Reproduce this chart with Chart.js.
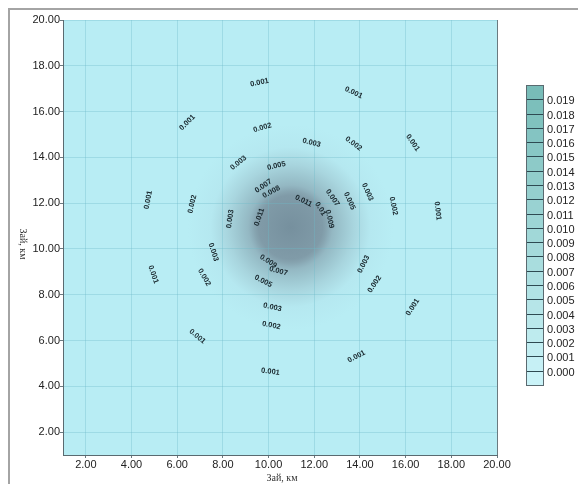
<!DOCTYPE html>
<html>
<head>
<meta charset="utf-8">
<script src="https://cdn.jsdelivr.net/npm/chart.js@4.4.0/dist/chart.umd.min.js"></script>
<style>
    html, body { margin: 0; padding: 0; background: #fff; }
</style>
</head>
<body>
<canvas id="fieldChart" width="578" height="484"></canvas>
<script>
// подписи изолиний: координаты, км
const labelX = [9.60, 6.44, 9.73, 8.68, 10.34, 9.77, 10.12, 4.73, 6.66, 8.32, 9.60, 13.72, 11.88, 13.72, 16.31, 14.33, 13.54, 12.80, 12.27, 12.67, 11.53, 15.47, 17.40, 7.58, 7.18, 4.95, 9.99, 10.43, 9.77, 10.17, 10.12, 6.88, 10.08, 14.16, 14.64, 16.31, 13.85];
const labelY = [17.27, 15.52, 15.30, 13.76, 13.63, 12.75, 12.49, 12.14, 11.96, 11.31, 11.39, 16.83, 14.64, 14.60, 14.64, 12.49, 12.10, 12.23, 11.75, 11.31, 12.10, 11.88, 11.66, 9.86, 8.76, 8.89, 9.46, 9.03, 8.59, 7.45, 6.66, 6.18, 4.64, 9.33, 8.46, 7.45, 5.30];
const labelText = ['0.001', '0.001', '0.002', '0.003', '0.005', '0.007', '0.008', '0.001', '0.002', '0.003', '0.011', '0.001', '0.003', '0.002', '0.001', '0.003', '0.005', '0.007', '0.01', '0.009', '0.011', '0.002', '0.001', '0.003', '0.002', '0.001', '0.009', '0.007', '0.005', '0.003', '0.002', '0.001', '0.001', '0.003', '0.002', '0.001', '0.001'];

// центр пятна и радиусы изолиний, км
const fieldCenter = [10.96, 10.95];
const isoLevels = [0.001, 0.002, 0.003, 0.005, 0.007, 0.008, 0.009, 0.010, 0.011, 0.014];
const isoRadius = [6.4, 4.5, 3.5, 2.75, 2.15, 1.85, 1.7, 1.58, 1.4, 0];

// деления осей
const axisTicks = [2, 4, 6, 8, 10, 12, 14, 16, 18, 20];

// шкала легенды
const barLevels = [0.000, 0.001, 0.002, 0.003, 0.004, 0.005, 0.006, 0.007, 0.008, 0.009, 0.010, 0.011, 0.012, 0.013, 0.014, 0.015, 0.016, 0.017, 0.018, 0.019];

const bgColor = [184, 237, 244];
const darkColor = [128, 155, 168];

function mix(a, b, t) {
    return 'rgb(' + a.map((v, i) => Math.round(v + (b[i] - v) * t)).join(',') + ')';
}

// цвет заливки поля по значению
function fieldColor(v) {
    if (v <= 0.011) {
        const t = Math.max(0, Math.min(1, (v - 0.0025) / 0.0085));
        return mix(bgColor, darkColor, t);
    }
    return mix(darkColor, [118, 144, 158], Math.min(1, (v - 0.011) / 0.003));
}

const fieldPlugin = {
    id: 'field',
    beforeDraw(chart) {
        const { ctx, chartArea: a, scales: { x, y } } = chart;
        ctx.save();
        ctx.beginPath();
        ctx.rect(a.left, a.top, a.right - a.left, a.bottom - a.top);
        ctx.clip();
        ctx.fillStyle = mix(bgColor, bgColor, 0);
        ctx.fillRect(a.left, a.top, a.right - a.left, a.bottom - a.top);

        const cx = x.getPixelForValue(fieldCenter[0]);
        const cy = y.getPixelForValue(fieldCenter[1]);
        const rMax = isoRadius[0];
        const rPx = x.getPixelForValue(fieldCenter[0] + rMax) - cx;
        const grad = ctx.createRadialGradient(cx, cy, 0, cx, cy, rPx);
        for (let i = isoLevels.length - 1; i >= 0; i--) {
            grad.addColorStop(isoRadius[i] / rMax, fieldColor(isoLevels[i]));
        }
        ctx.fillStyle = grad;
        ctx.beginPath();
        ctx.arc(cx, cy, rPx, 0, Math.PI * 2);
        ctx.fill();
        ctx.restore();
    },
    afterDatasetsDraw(chart) {
        const { ctx, scales: { x, y } } = chart;
        const cx = x.getPixelForValue(fieldCenter[0]);
        const cy = y.getPixelForValue(fieldCenter[1]);
        const meta = chart.getDatasetMeta(0);
        ctx.save();
        ctx.font = 'bold 7.5px "Liberation Sans", Arial, sans-serif';
        ctx.fillStyle = '#18262c';
        ctx.textAlign = 'center';
        ctx.textBaseline = 'middle';
        meta.data.forEach((pt, i) => {
            // подпись идёт вдоль изолинии
            let ang = Math.atan2(pt.y - cy, pt.x - cx) + Math.PI / 2;
            while (ang > Math.PI / 2) ang -= Math.PI;
            while (ang <= -Math.PI / 2) ang += Math.PI;
            ctx.save();
            ctx.translate(pt.x, pt.y);
            ctx.rotate(ang);
            ctx.fillText(labelText[i], 0, 0);
            ctx.restore();
        });
        ctx.restore();
    },
    afterDraw(chart) {
        const { ctx, chartArea: a } = chart;
        ctx.save();

        // рамка листа
        ctx.strokeStyle = '#a4a4a4';
        ctx.lineWidth = 2;
        ctx.beginPath();
        ctx.moveTo(9, 484);
        ctx.lineTo(9, 9);
        ctx.lineTo(578, 9);
        ctx.stroke();

        // правая граница поля
        ctx.strokeStyle = '#6a7a80';
        ctx.lineWidth = 1;
        ctx.beginPath();
        ctx.moveTo(a.right + 0.5, a.top);
        ctx.lineTo(a.right + 0.5, a.bottom);
        ctx.stroke();

        // подписи осей
        ctx.fillStyle = '#333';
        ctx.font = '10px "Liberation Serif", "Times New Roman", serif';
        ctx.textAlign = 'center';
        ctx.textBaseline = 'middle';
        ctx.fillText('Зай, км', 282, 478);
        ctx.save();
        ctx.translate(23, 244);
        ctx.rotate(Math.PI / 2);
        ctx.fillText('Зай, км', 0, 0);
        ctx.restore();

        // легенда
        const bx = 526, by = 85, bw = 17, bh = 300;
        const n = barLevels.length + 1;
        const step = bh / n;
        for (let j = 0; j < n; j++) {
            const t = (n - 1 - j) / (n - 1);
            ctx.fillStyle = mix([202, 243, 248], [120, 188, 184], t);
            ctx.fillRect(bx, by + j * step, bw, step + 0.5);
        }
        ctx.strokeStyle = '#2e4a52';
        ctx.lineWidth = 1;
        for (let k = 1; k < n; k++) {
            const yy = Math.round(by + k * step) + 0.5;
            ctx.beginPath();
            ctx.moveTo(bx, yy);
            ctx.lineTo(bx + bw, yy);
            ctx.stroke();
        }
        ctx.strokeStyle = '#5a6a70';
        ctx.strokeRect(bx + 0.5, by + 0.5, bw, bh);

        ctx.fillStyle = '#222';
        ctx.font = '11px "Liberation Sans", Arial, sans-serif';
        ctx.textAlign = 'left';
        for (let k = 1; k < n; k++) {
            const v = barLevels[n - 1 - k];
            ctx.fillText(v.toFixed(3), bx + bw + 4, by + k * step + 2);
        }
        ctx.restore();
    }
};

function axisOptions(fitFn) {
    return {
        type: 'linear',
        min: 1,
        max: 20,
        afterBuildTicks: function(axis) {
            axis.ticks = axisTicks.map(v => ({ value: v }));
        },
        afterFit: fitFn,
        ticks: {
            padding: 0,
            color: '#222',
            font: { family: '"Liberation Sans", Arial, sans-serif', size: 11 },
            callback: function(value) {
                return Number(value).toFixed(2);
            }
        },
        grid: {
            color: 'rgba(110, 185, 200, 0.35)',
            lineWidth: 1,
            tickLength: 3,
            tickColor: '#6a7a80'
        },
        border: {
            display: true,
            color: '#5a6a70',
            width: 1
        }
    };
}

const ctx = document.getElementById('fieldChart').getContext('2d');
new Chart(ctx, {
    type: 'scatter',
    data: {
        datasets: [{
            label: 'изолинии',
            data: labelX.map((x, i) => ({ x: x, y: labelY[i] })),
            pointRadius: 0,
            pointHoverRadius: 0
        }]
    },
    options: {
        responsive: false,
        animation: false,
        events: [],
        layout: {
            padding: { left: 8, right: 81, top: 20, bottom: 0 }
        },
        scales: {
            x: axisOptions(function(scale) { scale.height = 29; }),
            y: axisOptions(function(scale) { scale.width = 55; })
        },
        plugins: {
            legend: { display: false },
            tooltip: { enabled: false }
        }
    },
    plugins: [fieldPlugin]
});
</script>
</body>
</html>
